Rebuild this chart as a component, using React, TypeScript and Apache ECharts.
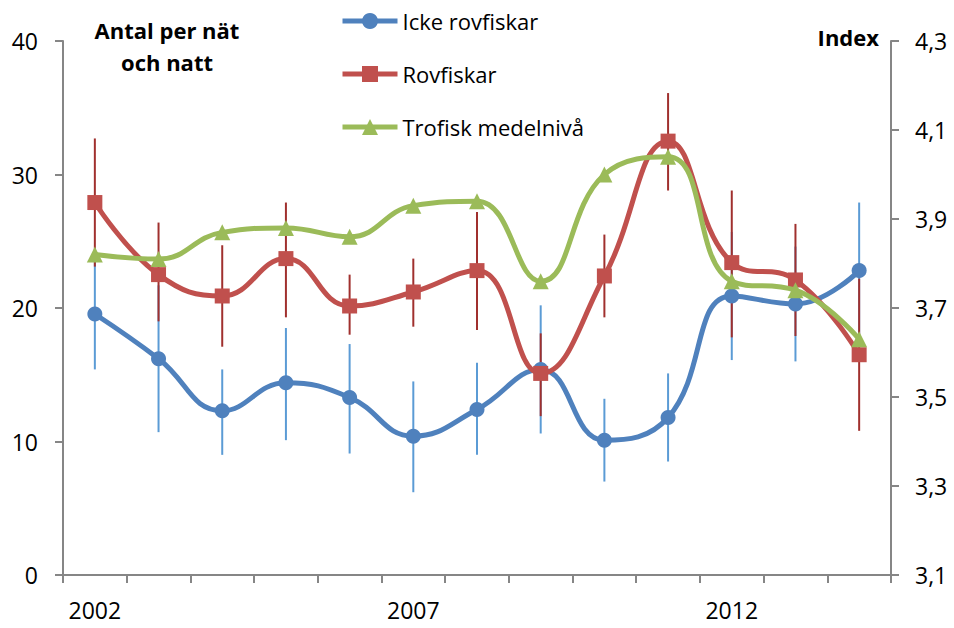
import React, { useEffect, useRef } from "react";
import * as echarts from "echarts";

const years = ["2002", "2003", "2004", "2005", "2006", "2007", "2008", "2009", "2010", "2011", "2012", "2013", "2014"];

const ickeRovfiskar = [19.55, 16.2, 12.3, 14.4, 13.3, 10.4, 12.4, 15.4, 10.1, 11.8, 20.9, 20.3, 22.8];
const ickeLow = [15.4, 10.7, 9.0, 10.1, 9.1, 6.2, 9.0, 10.6, 7.0, 8.5, 16.1, 16.0, 17.7];
const ickeHigh = [23.7, 21.7, 15.4, 18.5, 17.3, 14.5, 15.9, 20.2, 13.2, 15.1, 25.7, 24.6, 27.9];

const rovfiskar = [27.9, 22.5, 20.9, 23.7, 20.15, 21.2, 22.8, 15.1, 22.4, 32.5, 23.4, 22.1, 16.5];
const rovLow = [23.1, 19.0, 17.1, 19.3, 18.0, 18.6, 18.35, 11.9, 19.3, 28.8, 17.8, 17.9, 10.8];
const rovHigh = [32.7, 26.4, 24.7, 27.9, 22.5, 23.7, 27.2, 18.1, 25.5, 36.1, 28.8, 26.3, 22.2];

const trofisk = [3.82, 3.81, 3.87, 3.88, 3.86, 3.93, 3.94, 3.76, 4.0, 4.04, 3.76, 3.74, 3.63];

const leftTicks = { min: 0, max: 40, interval: 10 };
const rightTicks = { min: 3.1, max: 4.3, interval: 0.2 };

const FONT = "'Open Sans', 'Noto Sans', sans-serif";

const BLUE = "#4f81bd";
const RED = "#c0504d";
const GREEN = "#9bbb59";
const BLUE_ERR = "#5b9bd5";
const RED_ERR = "#a0302e";

function errSeries(low: number[], high: number[], color: string) {
  return {
    type: "custom",
    xAxisIndex: 0,
    yAxisIndex: 0,
    z: 1,
    silent: true,
    encode: { x: 0, y: [1, 2] },
    data: low.map((l, i) => [i, l, high[i]]),
    renderItem: (params: any, api: any) => {
      const x = api.value(0);
      const lo = api.coord([x, api.value(1)]);
      const hi = api.coord([x, api.value(2)]);
      return {
        type: "line",
        shape: { x1: lo[0], y1: lo[1], x2: hi[0], y2: hi[1] },
        style: { stroke: color, lineWidth: 2 },
      };
    },
  };
}

export default function App() {
  const ref = useRef<HTMLDivElement>(null);
  useEffect(() => {
    if (!ref.current) return;
    const chart = echarts.init(ref.current, undefined, { renderer: "svg" });
    const smooth = 0.45;
    chart.setOption({
      animation: false,
      backgroundColor: "#ffffff",
      textStyle: { fontFamily: FONT },
      grid: { left: 63, right: 63, top: 41, bottom: 53, containLabel: false },
      legend: {
        orient: "vertical",
        left: 335,
        top: 5,
        itemWidth: 55,
        itemHeight: 20,
        itemGap: 31,
        lineStyle: { width: 5 },
        textStyle: { fontFamily: FONT, fontSize: 22, color: "#000" },
        data: ["Icke rovfiskar", "Rovfiskar", "Trofisk medelnivå"],
      },
      xAxis: {
        type: "category",
        data: years,
        boundaryGap: true,
        axisLine: { lineStyle: { color: "#868686", width: 2 } },
        axisTick: { show: true, interval: 0, length: 8, lineStyle: { color: "#868686", width: 2 } },
        axisLabel: { interval: 4, margin: 23, fontSize: 23, color: "#000", fontFamily: FONT },
        splitLine: { show: false },
      },
      yAxis: [
        {
          type: "value",
          position: "left",
          min: leftTicks.min,
          max: leftTicks.max,
          interval: leftTicks.interval,
          axisLine: { show: true, lineStyle: { color: "#868686", width: 2 } },
          axisTick: { show: true, length: 8, lineStyle: { color: "#868686", width: 2 } },
          axisLabel: { margin: 25, fontSize: 23, color: "#000", fontFamily: FONT },
          splitLine: { show: false },
        },
        {
          type: "value",
          position: "right",
          min: rightTicks.min,
          max: rightTicks.max,
          interval: rightTicks.interval,
          axisLine: { show: true, lineStyle: { color: "#868686", width: 2 } },
          axisTick: { show: true, length: 8, lineStyle: { color: "#868686", width: 2 } },
          axisLabel: {
            margin: 24,
            fontSize: 23,
            color: "#000",
            fontFamily: FONT,
            formatter: (v: number) => v.toFixed(1).replace(".", ","),
          },
          splitLine: { show: false },
        },
      ],
      graphic: [
        {
          type: "text",
          x: 167,
          y: 30,
          style: {
            text: "Antal per nät",
            fontFamily: FONT,
            fontWeight: "bold",
            fontSize: 22,
            fill: "#000",
            align: "center",
            verticalAlign: "middle",
          },
        },
        {
          type: "text",
          x: 167,
          y: 62,
          style: {
            text: "och natt",
            fontFamily: FONT,
            fontWeight: "bold",
            fontSize: 22,
            fill: "#000",
            align: "center",
            verticalAlign: "middle",
          },
        },
        {
          type: "text",
          x: 879,
          y: 37,
          style: {
            text: "Index",
            fontFamily: FONT,
            fontWeight: "bold",
            fontSize: 22,
            fill: "#000",
            align: "right",
            verticalAlign: "middle",
          },
        },
      ],
      series: [
        errSeries(ickeLow, ickeHigh, BLUE_ERR),
        errSeries(rovLow, rovHigh, RED_ERR),
        {
          name: "Icke rovfiskar",
          type: "line",
          yAxisIndex: 0,
          data: ickeRovfiskar,
          smooth,
          z: 3,
          symbol: "circle",
          symbolSize: 15,
          lineStyle: { color: BLUE, width: 5 },
          itemStyle: { color: BLUE },
        },
        {
          name: "Rovfiskar",
          type: "line",
          yAxisIndex: 0,
          data: rovfiskar,
          smooth,
          z: 4,
          symbol: "rect",
          symbolSize: 15,
          lineStyle: { color: RED, width: 5 },
          itemStyle: { color: RED },
        },
        {
          name: "Trofisk medelnivå",
          type: "line",
          yAxisIndex: 1,
          data: trofisk,
          smooth,
          z: 5,
          symbol: "triangle",
          symbolSize: 16,
          lineStyle: { color: GREEN, width: 5 },
          itemStyle: { color: GREEN },
        },
      ],
    });
    return () => chart.dispose();
  }, []);
  return <div ref={ref} style={{ width: 954, height: 628, position: "absolute", left: 0, top: 0 }} />;
}
